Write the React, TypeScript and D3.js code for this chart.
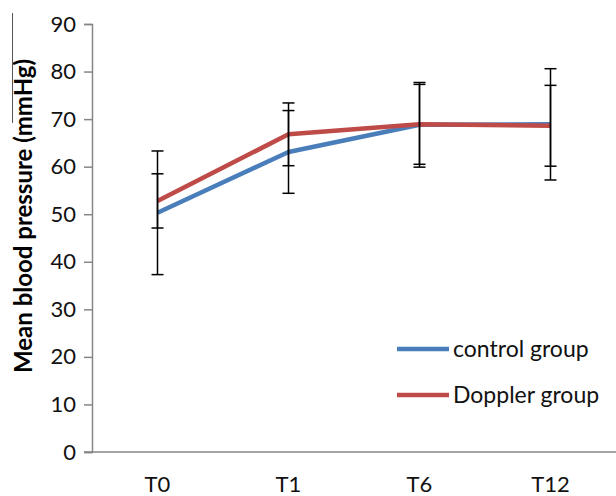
import React, { useEffect, useRef } from "react";
import * as d3 from "d3";

const categories = ["T0", "T1", "T6", "T12"];
const controlMean = [50.3, 63.1, 68.8, 68.9];
const controlErr = [13.0, 8.7, 8.9, 11.7];
const dopplerMean = [52.8, 66.8, 68.9, 68.6];
const dopplerErr = [5.7, 6.6, 8.4, 8.5];
const yTicks = [0, 10, 20, 30, 40, 50, 60, 70, 80, 90];

const seriesList = [
  { name: "control group", color: "#4a7ebb", mean: controlMean, err: controlErr },
  { name: "Doppler group", color: "#be4b48", mean: dopplerMean, err: dopplerErr },
];

const App = () => {
  const ref = useRef<SVGSVGElement>(null);

  useEffect(() => {
    const width = 616,
      height = 496;
    const margin = { top: 24, right: 0, bottom: 44, left: 92 };

    const svg = d3.select(ref.current);
    svg.selectAll("*").remove();

    const font = "Lato, 'Open Sans', sans-serif";

    const x = d3
      .scaleBand()
      .domain(categories)
      .range([margin.left, width - margin.right]);

    const y = d3
      .scaleLinear()
      .domain([0, 90])
      .range([height - margin.bottom, margin.top]);

    const cx = (c: string) => (x(c) as number) + x.bandwidth() / 2;

    // y axis
    const yAxis = svg
      .append("g")
      .attr("transform", `translate(${margin.left},0)`)
      .call(d3.axisLeft(y).tickValues(yTicks).tickSize(8).tickPadding(8));
    yAxis.select(".domain").attr("stroke", "#868686").attr("stroke-width", 1.5);
    yAxis.selectAll(".tick line").attr("stroke", "#868686").attr("stroke-width", 1.5);
    yAxis
      .selectAll(".tick text")
      .attr("font-family", font)
      .attr("font-size", 22)
      .attr("fill", "#111");

    // x axis
    const yBase = y(0);
    svg
      .append("line")
      .attr("x1", margin.left - 8)
      .attr("x2", width)
      .attr("y1", yBase)
      .attr("y2", yBase)
      .attr("stroke", "#868686")
      .attr("stroke-width", 1.5);

    svg
      .append("g")
      .selectAll("text")
      .data(categories)
      .enter()
      .append("text")
      .attr("x", (d) => cx(d))
      .attr("y", 492)
      .attr("text-anchor", "middle")
      .attr("font-family", font)
      .attr("font-size", 22)
      .attr("fill", "#111")
      .text((d) => d);

    // y label
    svg
      .append("text")
      .attr("transform", `translate(32,216) rotate(-90)`)
      .attr("text-anchor", "middle")
      .attr("font-family", font)
      .attr("font-weight", "bold")
      .attr("font-size", 24)
      .attr("fill", "#000")
      .text("Mean blood pressure (mmHg)");

    // stray line at top left
    svg
      .append("line")
      .attr("x1", 12.5)
      .attr("x2", 12.5)
      .attr("y1", 13)
      .attr("y2", 123)
      .attr("stroke", "#555")
      .attr("stroke-width", 1);

    // lines
    const line = d3
      .line<number>()
      .x((_, i) => cx(categories[i]))
      .y((d) => y(d));

    seriesList.forEach((s) => {
      svg
        .append("path")
        .datum(s.mean)
        .attr("d", line)
        .attr("fill", "none")
        .attr("stroke", s.color)
        .attr("stroke-width", 4.5)
        .attr("stroke-linejoin", "round");
    });

    // error bars
    const cap = 6;
    seriesList.forEach((s) => {
      const g = svg.append("g").attr("stroke", "#000").attr("stroke-width", 1.5);
      s.mean.forEach((m, i) => {
        const xc = cx(categories[i]);
        const lo = y(m - s.err[i]);
        const hi = y(m + s.err[i]);
        g.append("line").attr("x1", xc).attr("x2", xc).attr("y1", lo).attr("y2", hi);
        g.append("line").attr("x1", xc - cap).attr("x2", xc + cap).attr("y1", lo).attr("y2", lo);
        g.append("line").attr("x1", xc - cap).attr("x2", xc + cap).attr("y1", hi).attr("y2", hi);
      });
    });

    // legend
    const legend = svg.append("g");
    seriesList.forEach((s, i) => {
      const ly = 349 + i * 46;
      legend
        .append("line")
        .attr("x1", 397)
        .attr("x2", 449)
        .attr("y1", ly)
        .attr("y2", ly)
        .attr("stroke", s.color)
        .attr("stroke-width", 4.5);
      legend
        .append("text")
        .attr("x", 453)
        .attr("y", ly + 8)
        .attr("font-family", font)
        .attr("font-size", 23)
        .attr("fill", "#111")
        .text(s.name);
    });
  }, []);

  return (
    <svg
      ref={ref}
      width={616}
      height={496}
      style={{ position: "absolute", left: 0, top: 0, background: "#fff" }}
    />
  );
};

export default App;
